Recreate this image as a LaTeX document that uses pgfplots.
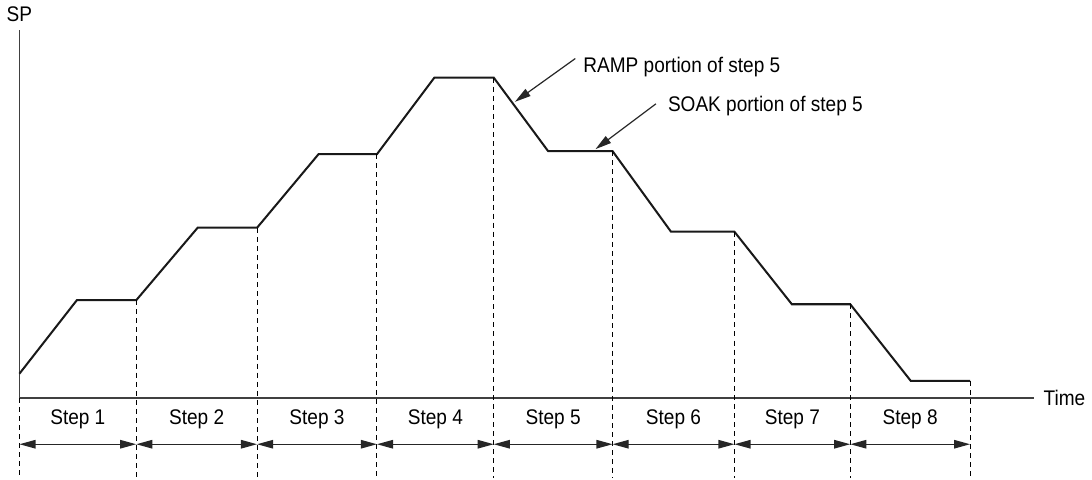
\documentclass[border=0pt]{standalone}
\usepackage{pgfplots}
\pgfplotsset{compat=1.18}
\usetikzlibrary{arrows.meta}
\usepackage{fontspec}
\setmainfont[FakeStretch=0.9]{Liberation Sans}
\begin{document}
\begin{tikzpicture}[lbl/.style={font=\fontsize{10.5}{12}\selectfont},
  hd/.style={Triangle[length=8pt,width=4.2pt]}]
\begin{axis}[
    x=0.5pt, y=0.5pt,
    xmin=-23, xmax=1069,
    ymin=-80, ymax=397,
    axis lines=none,
    ticks=none,
    clip=false,
    scale only axis,
]
% axes
\draw[black!75, line width=0.75pt] (axis cs:0,365) -- (axis cs:0,0) -- (axis cs:1007,0);
\node[lbl, anchor=west] at (axis cs:1010,0) {Time};
\node[lbl] at (axis cs:0,381) {SP};

% set point profile
\addplot[black!90, line width=1pt, line join=miter] coordinates {
    (0,24) (57,97) (116,97) (177,169) (236,169) (297,242) (355,242)
    (412,318) (471,318) (525,245) (589,245) (647,165) (710,165)
    (767,93) (825,93) (885,17) (944,17)
};

% step boundaries
\addplot[black, line width=0.55pt, dash pattern=on 2.5pt off 2pt, unbounded coords=jump] coordinates {
    (0,0) (0,-80) (nan,nan)
    (116,97) (116,-80) (nan,nan)
    (236,169) (236,-80) (nan,nan)
    (355,242) (355,-80) (nan,nan)
    (471,318) (471,-80) (nan,nan)
    (589,245) (589,-80) (nan,nan)
    (710,165) (710,-80) (nan,nan)
    (825,93) (825,-80) (nan,nan)
    (944,17) (944,-80)
};

% step arrows and labels
\foreach \a/\b/\n in {0/116/1,116/236/2,236/355/3,355/471/4,471/589/5,589/710/6,710/825/7,825/944/8}{
    \edef\temp{\noexpand\draw[black!85, line width=0.7pt, {Triangle[length=8pt,width=4.2pt]}-{Triangle[length=8pt,width=4.2pt]}]
        (axis cs:\a,-46) -- (axis cs:\b,-46);
      \noexpand\node[lbl] at (axis cs:{(\a+\b)/2},-21) {Step \n};}
    \temp
}

% annotations
\draw[black!85, line width=0.6pt, -{Triangle[length=8pt,width=4.2pt]}] (axis cs:552,337) -- (axis cs:492,294);
\node[lbl, anchor=west] at (axis cs:553,329) {RAMP portion of step 5};
\draw[black!85, line width=0.6pt, -{Triangle[length=8pt,width=4.2pt]}] (axis cs:632,292) -- (axis cs:572,247);
\node[lbl, anchor=west] at (axis cs:637,290) {SOAK portion of step 5};
\end{axis}
\end{tikzpicture}
\end{document}
